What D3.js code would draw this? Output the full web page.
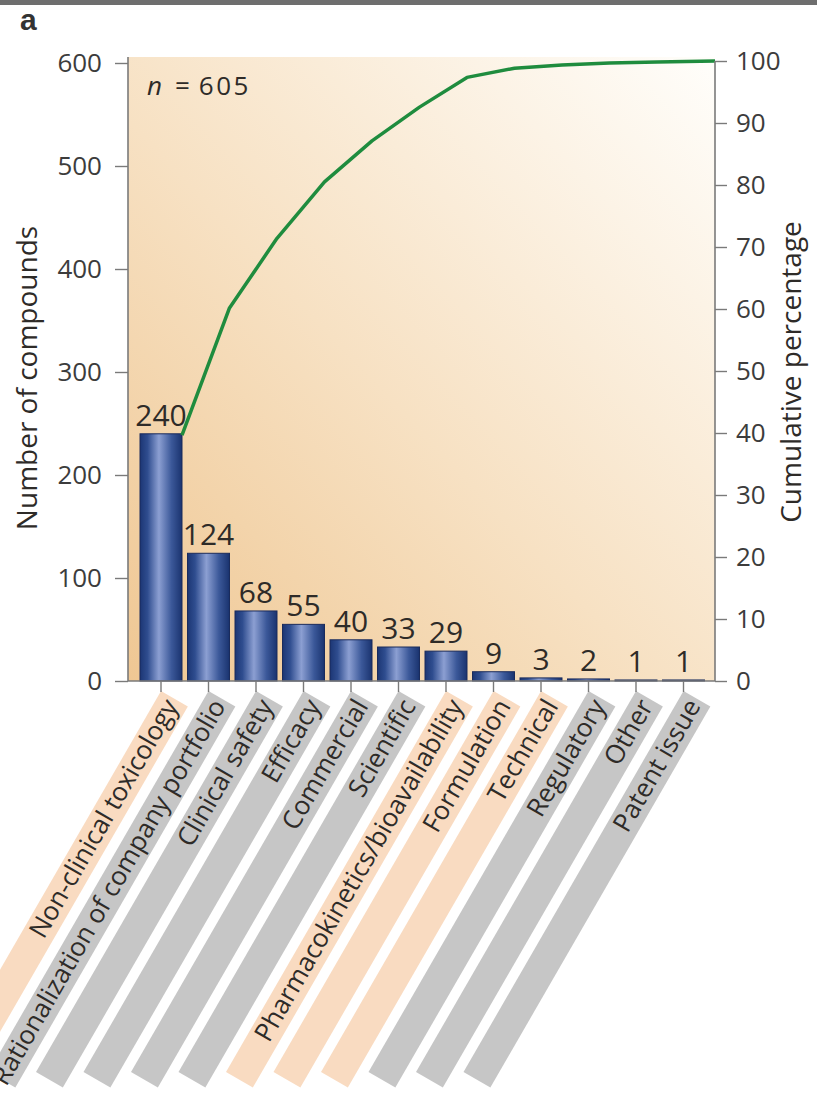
<!DOCTYPE html>
<html>
<head>
<meta charset="utf-8">
<script src="https://cdn.jsdelivr.net/npm/d3@7"></script>
<style>
  html, body { margin: 0; padding: 0; background: #fff; }
  svg { display: block; }
</style>
</head>
<body>
<svg id="chart" width="817" height="1095"></svg>
<script>
// Reasons for compound attrition (Pareto chart)
const categories = [
  "Non-clinical toxicology",
  "Rationalization of company portfolio",
  "Clinical safety",
  "Efficacy",
  "Commercial",
  "Scientific",
  "Pharmacokinetics/bioavailability",
  "Formulation",
  "Technical",
  "Regulatory",
  "Other",
  "Patent issue"
];
const counts = [240, 124, 68, 55, 40, 33, 29, 9, 3, 2, 1, 1];
// categories shown on a peach band (others are grey)
const highlighted = [true, false, false, false, false, false, true, true, true, false, false, false];
const countTicks = [0, 100, 200, 300, 400, 500, 600];
const percentTicks = [0, 10, 20, 30, 40, 50, 60, 70, 80, 90, 100];
const sampleSize = 605;

const W = 817, H = 1095;
const plot = { left: 128, right: 715, top: 57, bottom: 681 };
const font = "'Open Sans', 'Noto Sans', sans-serif";
const axisColor = "#7a7a7a";
const textColor = "#2e2b28";

const svg = d3.select("#chart");
const defs = svg.append("defs");

// plot background: warm tan at lower left fading to white at upper right
const bgGrad = defs.append("linearGradient").attr("id", "bgGrad")
  .attr("x1", 0).attr("y1", 1).attr("x2", 1).attr("y2", 0);
[[0, "#efc793"], [0.45, "#f7e1c3"], [1, "#fffefb"]].forEach(([o, c]) =>
  bgGrad.append("stop").attr("offset", o).attr("stop-color", c));

// cylindrical shading for bars
const barGrad = defs.append("linearGradient").attr("id", "barGrad")
  .attr("x1", 0).attr("y1", 0).attr("x2", 1).attr("y2", 0);
[[0, "#1c3674"], [0.18, "#2f4d8f"], [0.45, "#8c9fd2"], [0.75, "#3b5899"], [1, "#1a336f"]].forEach(([o, c]) =>
  barGrad.append("stop").attr("offset", o).attr("stop-color", c));

// header strip and panel letter
svg.append("rect").attr("x", 0).attr("y", 0).attr("width", W).attr("height", 5).attr("fill", "#6e6e6e");
svg.append("text").attr("x", 20).attr("y", 30)
  .style("font-family", "'Liberation Sans', Arial, sans-serif")
  .style("font-weight", "bold").style("font-size", "30px").attr("fill", "#333")
  .text("a");

// scales
const x = d3.scaleBand().domain(categories)
  .range([137.25, 707.25]).paddingInner(0.116).paddingOuter(0.058);
const y = d3.scaleLinear().domain([0, 600]).range([plot.bottom, 63]);
const yR = d3.scaleLinear().domain([0, 100]).range([plot.bottom, 61]);
const bw = x.bandwidth();

// background
svg.append("rect")
  .attr("x", plot.left).attr("y", plot.top)
  .attr("width", plot.right - plot.left).attr("height", plot.bottom - plot.top)
  .attr("fill", "url(#bgGrad)");

// category labels on slanted bands
const stripeLen = 440, stripeW = 31;
const lab = svg.append("g").selectAll("g").data(categories).join("g")
  .attr("transform", d => `translate(${x(d) + bw / 2},691) rotate(-60)`);
lab.append("rect")
  .attr("x", -stripeLen).attr("y", 0).attr("width", stripeLen).attr("height", stripeW)
  .attr("fill", (d, i) => highlighted[i] ? "#f9dbc1" : "#c6c6c6");
lab.append("text")
  .attr("x", -4).attr("y", 23).attr("text-anchor", "end")
  .style("font-family", font).style("font-size", "26px").attr("fill", textColor)
  .text(d => d);

// bars
svg.append("g").selectAll("rect").data(counts).join("rect")
  .attr("x", (d, i) => x(categories[i]))
  .attr("y", d => y(d))
  .attr("width", bw)
  .attr("height", d => y(0) - y(d))
  .attr("fill", "url(#barGrad)")
  .attr("stroke", "#1a2b5c").attr("stroke-width", 1);

// bar values
svg.append("g").selectAll("text").data(counts).join("text")
  .attr("x", (d, i) => x(categories[i]) + bw / 2)
  .attr("y", d => y(d) - 8)
  .attr("text-anchor", "middle")
  .style("font-family", font).style("font-size", "30px").attr("fill", textColor)
  .text(d => d);

// cumulative percentage line
const cum = d3.cumsum(counts);
const total = cum[cum.length - 1];
const pts = counts.map((d, i) => [
  i === counts.length - 1 ? plot.right : x(categories[i]) + bw,
  yR(cum[i] / total * 100)
]);
svg.append("path").datum(pts)
  .attr("d", d3.line())
  .attr("fill", "none").attr("stroke", "#1f8c3e")
  .attr("stroke-width", 3.5).attr("stroke-linejoin", "round");

// axes
function styleAxis(g) {
  g.select(".domain").remove();
  g.selectAll(".tick line").attr("stroke", axisColor).attr("stroke-width", 1.4);
  g.selectAll(".tick text").style("font-family", font).style("font-size", "26px").attr("fill", "#3c3c3c");
}
svg.append("g").attr("transform", `translate(${plot.left},0)`)
  .call(d3.axisLeft(y).tickValues(countTicks).tickSize(13).tickPadding(13))
  .call(styleAxis);
svg.append("g").attr("transform", `translate(${plot.right},0)`)
  .call(d3.axisRight(yR).tickValues(percentTicks).tickSize(12).tickPadding(9))
  .call(styleAxis);
svg.append("g").attr("transform", `translate(0,${plot.bottom})`)
  .call(d3.axisBottom(x).tickSize(11).tickFormat(""))
  .call(styleAxis);

// axis lines
svg.append("line").attr("x1", plot.left).attr("x2", plot.left)
  .attr("y1", plot.top).attr("y2", plot.bottom)
  .attr("stroke", axisColor).attr("stroke-width", 1.6);
svg.append("line").attr("x1", plot.right).attr("x2", plot.right)
  .attr("y1", yR(100)).attr("y2", plot.bottom)
  .attr("stroke", axisColor).attr("stroke-width", 1.6);
svg.append("line").attr("x1", plot.left).attr("x2", plot.right)
  .attr("y1", plot.bottom).attr("y2", plot.bottom)
  .attr("stroke", axisColor).attr("stroke-width", 1.6);

// sample size note
const nText = svg.append("text").attr("x", 147).attr("y", 95)
  .style("font-family", font).style("font-size", "26px").attr("fill", textColor);
nText.append("tspan").style("font-style", "italic").text("n");
nText.append("tspan").attr("dx", 13).text("=");
nText.append("tspan").attr("dx", 9).style("letter-spacing", "2.5px").text(sampleSize);

// axis titles
svg.append("text")
  .attr("transform", "translate(37,378) rotate(-90)")
  .attr("text-anchor", "middle")
  .style("font-family", font).style("font-size", "28px").attr("fill", textColor)
  .text("Number of compounds");
svg.append("text")
  .attr("transform", "translate(801,372) rotate(-90)")
  .attr("text-anchor", "middle")
  .style("font-family", font).style("font-size", "28px").attr("fill", textColor)
  .text("Cumulative percentage");
</script>
</body>
</html>
